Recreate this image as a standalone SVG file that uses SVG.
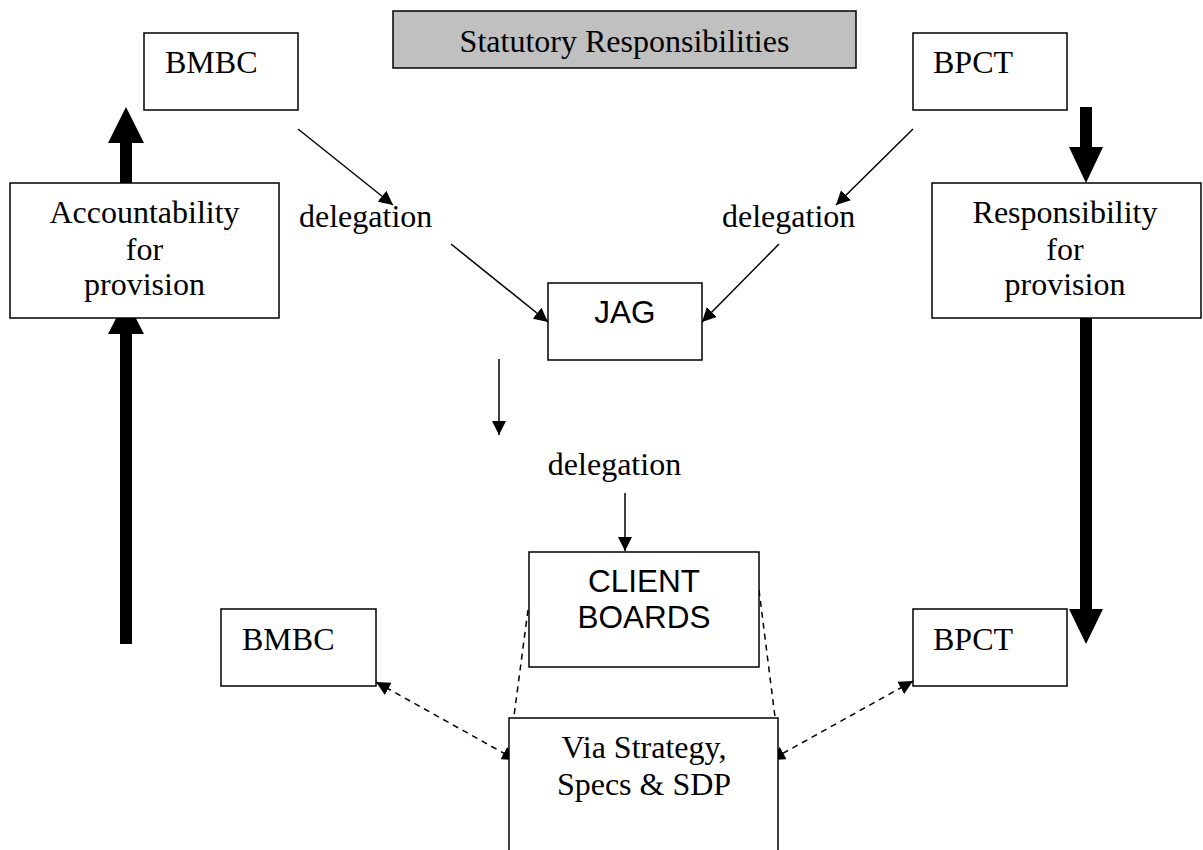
<svg xmlns="http://www.w3.org/2000/svg" width="1203" height="850" viewBox="0 0 1203 850">
<defs>
<style>
.box{fill:#fff;stroke:#000;stroke-width:1.5}
.gray{fill:#c0c0c0;stroke:#000;stroke-width:1.5}
.serif{font-family:"Liberation Serif","Times New Roman",serif;font-size:32px;fill:#000}
.sans{font-family:"Liberation Sans",Arial,sans-serif;font-size:31.5px;fill:#000}
.thin{stroke:#000;stroke-width:1.5;fill:none}
.dash{stroke:#000;stroke-width:1.5;fill:none;stroke-dasharray:6 5}
.thick{fill:#000}
</style>
<marker id="ah" viewBox="0 0 14 14" refX="14" refY="7" markerWidth="14" markerHeight="14" markerUnits="userSpaceOnUse" orient="auto-start-reverse">
<path d="M0,0 L14,7 L0,14 z" fill="#000"/>
</marker>
</defs>
<rect width="1203" height="850" fill="#fff"/>
<g id="connectors">
<line class="thin" x1="298" y1="129" x2="393" y2="205" marker-end="url(#ah)"/>
<line class="thin" x1="451" y1="244" x2="548" y2="322" marker-end="url(#ah)"/>
<line class="thin" x1="913" y1="129" x2="836" y2="205" marker-end="url(#ah)"/>
<line class="thin" x1="779" y1="244" x2="702" y2="322" marker-end="url(#ah)"/>
<line class="thin" x1="499" y1="359" x2="499" y2="435" marker-end="url(#ah)"/>
<line class="thin" x1="625" y1="493" x2="625" y2="551" marker-end="url(#ah)"/>
<line class="dash" x1="528" y1="610" x2="514" y2="716"/>
<line class="dash" x1="759" y1="590" x2="775" y2="717"/>
<line class="dash" x1="376" y1="682" x2="516" y2="760" marker-start="url(#ah)" marker-end="url(#ah)"/>
<line class="dash" x1="913" y1="681" x2="771" y2="760" marker-start="url(#ah)" marker-end="url(#ah)"/>
<rect class="thick" x="120" y="142" width="12" height="42"/>
<polygon class="thick" points="108,143 126,107 144,143"/>
<rect class="thick" x="120" y="333" width="12" height="311"/>
<polygon class="thick" points="108,334 126,299 144,334"/>
<rect class="thick" x="1080" y="107" width="12" height="41"/>
<polygon class="thick" points="1069,147 1086,183 1103,147"/>
<rect class="thick" x="1080" y="317" width="12" height="293"/>
<polygon class="thick" points="1069,609 1086,644 1103,609"/>
</g>
<g id="statutory">
<rect class="gray" x="393" y="11" width="463" height="57"/>
<text class="serif" x="624.5" y="52" text-anchor="middle">Statutory Responsibilities</text>
</g>
<g id="bmbc-top">
<rect class="box" x="144" y="33" width="154" height="77"/>
<text class="serif" x="165" y="73">BMBC</text>
</g>
<g id="bpct-top">
<rect class="box" x="913" y="33" width="154" height="77"/>
<text class="serif" x="933" y="73">BPCT</text>
</g>
<g id="accountability">
<rect class="box" x="10" y="183" width="269" height="135"/>
<text class="serif" text-anchor="middle"><tspan x="144.5" y="223">Accountability</tspan><tspan x="144.5" y="260">for</tspan><tspan x="144.5" y="295">provision</tspan></text>
</g>
<g id="responsibility">
<rect class="box" x="932" y="183" width="269" height="135"/>
<text class="serif" text-anchor="middle"><tspan x="1065" y="223">Responsibility</tspan><tspan x="1065" y="260">for</tspan><tspan x="1065" y="295">provision</tspan></text>
</g>
<g id="label-delegation-left">
<text class="serif" x="299" y="227">delegation</text>
</g>
<g id="label-delegation-right">
<text class="serif" x="722" y="227">delegation</text>
</g>
<g id="jag">
<rect class="box" x="548" y="283" width="154" height="77"/>
<text class="sans" x="625" y="323" text-anchor="middle">JAG</text>
</g>
<g id="label-delegation-center">
<text class="serif" x="614.5" y="475" text-anchor="middle">delegation</text>
</g>
<g id="client-boards">
<rect class="box" x="529" y="552" width="230" height="115"/>
<text class="sans" text-anchor="middle"><tspan x="644" y="592">CLIENT</tspan><tspan x="644" y="628">BOARDS</tspan></text>
</g>
<g id="bmbc-bottom">
<rect class="box" x="221" y="609" width="155" height="77"/>
<text class="serif" x="242" y="650">BMBC</text>
</g>
<g id="bpct-bottom">
<rect class="box" x="913" y="609" width="154" height="77"/>
<text class="serif" x="933" y="650">BPCT</text>
</g>
<g id="via">
<rect class="box" x="509" y="718" width="269" height="150"/>
<text class="serif" text-anchor="middle"><tspan x="644" y="758">Via Strategy,</tspan><tspan x="644" y="795">Specs &amp; SDP</tspan></text>
</g>
</svg>
